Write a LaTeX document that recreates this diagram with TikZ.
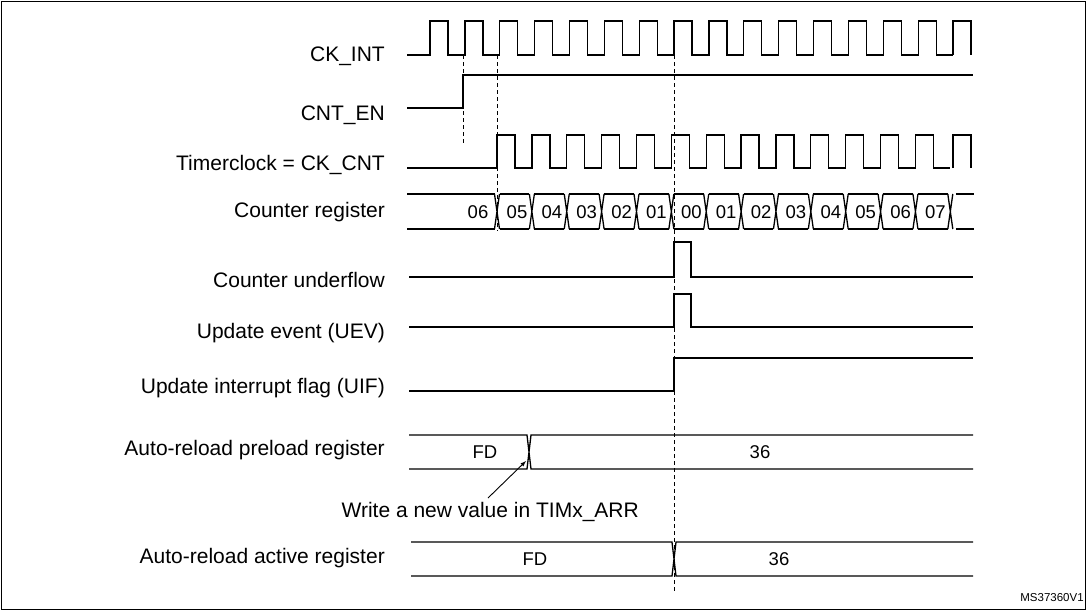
\documentclass[tikz,border=0pt]{standalone}
\usepackage{fontspec}
\setmainfont{Liberation Sans}
\begin{document}
\begin{tikzpicture}[x=1pt,y=-1pt,
  sig/.style={line width=1.3pt},
  dsh/.style={line width=0.8pt,dash pattern=on 4pt off 3pt},
  lab/.style={anchor=east,font=\fontsize{21}{24}\selectfont,inner sep=0pt},
  val/.style={font=\fontsize{18.5}{22}\selectfont,inner sep=0pt}]
\useasboundingbox (0,0) rectangle (1087,611);
\draw[line width=1.2pt] (1.5,1.5) rectangle (1085.5,609.5);
% labels
\node[lab] (l1) at (385,56) {CK\_INT};
\node[lab] (l2) at (385,115) {CNT\_EN};
\node[lab] (l3) at (385,165) {Timerclock = CK\_CNT};
\node[lab] (l4) at (385,212) {Counter register};
\node[lab] (l5) at (385,280) {Counter underflow};
\node[lab] (l6) at (385,333) {Update event (UEV)};
\node[lab] (l7) at (385,388) {Update interrupt flag (UIF)};
\node[lab] (l8) at (385,450) {Auto-reload preload register};
\node[lab] (l9) at (385,558) {Auto-reload active register};
% CK_INT
\draw[sig] (407,55) -- (430,55)
  \foreach \k in {0,...,14} { -- ({430+34.87*\k},55) -- ({430+34.87*\k},21) -- ({448+34.87*\k},21) -- ({448+34.87*\k},55) -- ({464.87+34.87*\k},55) };
\draw[sig] (953,55) -- (953,21) -- (971,21) -- (971,55);
% CNT_EN
\draw[sig] (407,108) -- (463,108) -- (463,75) -- (973,75);
% CK_CNT
\draw[sig] (407,168) -- (497,168)
  \foreach \k in {0,...,12} { -- ({497+34.87*\k},168) -- ({497+34.87*\k},135) -- ({515+34.87*\k},135) -- ({515+34.87*\k},168) -- ({531.87+34.87*\k},168) };
\draw[sig] (953,168) -- (953,135) -- (971,135) -- (971,168);
% counter register bus
\draw[sig] (407,194) -- (494.5,194) (407,229) -- (494.5,229);
\foreach \k in {0,...,13} {
  \draw[sig] ({494.5+34.87*\k},194) -- ({499.5+34.87*\k},229) ({494.5+34.87*\k},229) -- ({499.5+34.87*\k},194);
}
\foreach \k in {0,...,12} {
  \draw[sig] ({499.5+34.87*\k},194) -- ({529.37+34.87*\k},194) ({499.5+34.87*\k},229) -- ({529.37+34.87*\k},229);
}
\draw[sig] (955.8,194) -- (974,194) (955.8,229) -- (974,229);
\node[val] (v0) at (478,212) {06};
\foreach \v [count=\i from 0] in {05,04,03,02,01,00,01,02,03,04,05,06,07} {
  \node[val] (c\i) at ({517+34.87*\i},212) {\v};
}
% underflow, UEV, UIF
\draw[sig] (409,277) -- (674,277) -- (674,242) -- (691,242) -- (691,277) -- (973,277);
\draw[sig] (409,327) -- (674,327) -- (674,294) -- (691,294) -- (691,327) -- (973,327);
\draw[sig] (409,391) -- (674,391) -- (674,358) -- (973,358);
% preload bus
\draw[sig] (409,435) -- (527,435) -- (531,469) -- (973,469)
           (409,469) -- (527,469) -- (531,435) -- (973,435);
\node[val] (p1) at (485,452) {FD};
\node[val] (p2) at (760,452) {36};
% active bus
\draw[sig] (411,542) -- (672,542) -- (676,576) -- (973,576)
           (411,576) -- (672,576) -- (676,542) -- (973,542);
\node[val] (a1) at (535,559) {FD};
\node[val] (a2) at (779,559) {36};
% annotation
\node[lab] (w) at (639,512) {Write a new value in TIMx\_ARR};
\coordinate (wt) at (526,461);
\draw[line width=0.9pt,-{latex}] (488,498) -- (wt);
% dashed lines
\draw[dsh] (463,55) -- (463,145);
\draw[dsh] (497,55) -- (497,231);
\draw[dsh] (674,55) -- (674,592);
\node[font=\fontsize{11.5}{13}\selectfont,inner sep=0pt] (ms) at (1052,598) {MS37360V1};
\end{tikzpicture}
\end{document}
